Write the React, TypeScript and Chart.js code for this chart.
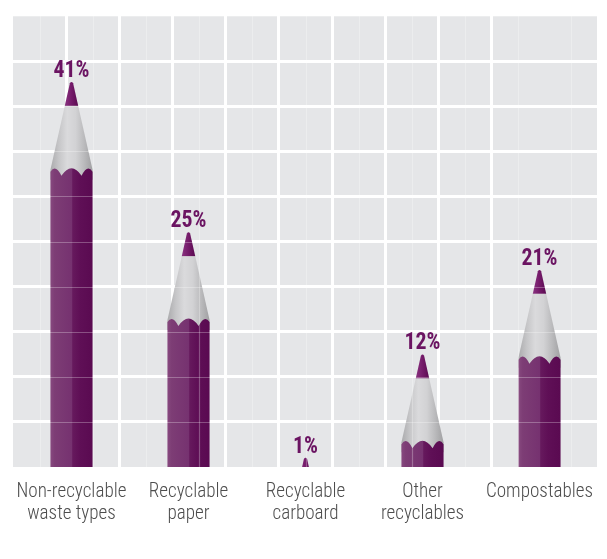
import React, { useEffect, useRef } from "react";
import { Chart, registerables } from "chart.js";

Chart.register(...registerables);

// ---- data ----
const categories: string[][] = [
  ["Non-recyclable", "waste types"],
  ["Recyclable", "paper"],
  ["Recyclable", "carboard"],
  ["Other", "recyclables"],
  ["Compostables"],
];
const shares: number[] = [41, 25, 1, 12, 21];
const valueLabels: string[] = ["41%", "25%", "1%", "12%", "21%"];
const yMax = 48;
const gridRows = 10;
const gridCols = 10;

const COND_FONT = '"Roboto Condensed", "Liberation Sans Narrow", "DejaVu Sans Condensed", Roboto, sans-serif';

function drawPencil(ctx: CanvasRenderingContext2D, cx: number, yTip: number, base: number, w: number) {
  const x0 = cx - w / 2;
  const x1 = cx + w / 2;
  const H = 88;
  const LEAD = 24;
  const yW = yTip + H;

  // wood cone
  ctx.save();
  ctx.beginPath();
  ctx.moveTo(x0, yW + 10);
  ctx.lineTo(x0, yW);
  ctx.lineTo(cx - 1.6, yTip + 1.5);
  ctx.quadraticCurveTo(cx, yTip - 1, cx + 1.6, yTip + 1.5);
  ctx.lineTo(x1, yW);
  ctx.lineTo(x1, yW + 10);
  ctx.closePath();
  const wood = ctx.createLinearGradient(x0, 0, x1, 0);
  wood.addColorStop(0, "#ababad");
  wood.addColorStop(0.2, "#c6c6c8");
  wood.addColorStop(0.4, "#dadadc");
  wood.addColorStop(0.6, "#d2d2d4");
  wood.addColorStop(0.8, "#bababc");
  wood.addColorStop(1, "#a0a0a2");
  ctx.fillStyle = wood;
  ctx.fill();
  ctx.clip();
  // lead
  const lead = ctx.createLinearGradient(cx - 7, 0, cx + 7, 0);
  lead.addColorStop(0, "#8a3381");
  lead.addColorStop(0.5, "#741a69");
  lead.addColorStop(1, "#5a0a50");
  ctx.fillStyle = lead;
  ctx.fillRect(x0, yTip - 4, w, LEAD + 4);
  ctx.restore();

  // painted body with scalloped top
  ctx.beginPath();
  ctx.moveTo(x0, yW + 2);
  ctx.quadraticCurveTo(x0 + w * 0.12, yW - 6, x0 + w * 0.26, yW + 6);
  ctx.quadraticCurveTo(x0 + w * 0.5, yW - 9, x0 + w * 0.74, yW + 6);
  ctx.quadraticCurveTo(x0 + w * 0.88, yW - 6, x1, yW + 2);
  ctx.lineTo(x1, base + 2);
  ctx.lineTo(x0, base + 2);
  ctx.closePath();
  const body = ctx.createLinearGradient(x0, 0, x1, 0);
  body.addColorStop(0, "#87497f");
  body.addColorStop(0.1, "#7d3d75");
  body.addColorStop(0.5, "#763270");
  body.addColorStop(0.53, "#66195d");
  body.addColorStop(0.7, "#5f0f56");
  body.addColorStop(1, "#5a0a51");
  ctx.fillStyle = body;
  ctx.fill();
}

// squeeze text horizontally only if the font is wider than the target
function condensedScale(ctx: CanvasRenderingContext2D, sample: string, target: number) {
  const m = ctx.measureText(sample).width;
  return m > 0 ? Math.min(1, target / m) : 1;
}

const backgroundPlugin = {
  id: "plotBackground",
  beforeDraw(chart: any) {
    const { ctx, chartArea } = chart;
    ctx.save();
    ctx.fillStyle = "#e5e6e8";
    ctx.fillRect(chartArea.left, chartArea.top, chartArea.right - chartArea.left, chartArea.bottom - chartArea.top);
    ctx.restore();
  },
};

const pencilPlugin = {
  id: "pencils",
  afterDatasetsDraw(chart: any) {
    const { ctx, chartArea, scales } = chart;
    const meta = chart.getDatasetMeta(0);
    ctx.save();
    ctx.beginPath();
    ctx.rect(chartArea.left, chartArea.top - 40, chartArea.right - chartArea.left, chartArea.bottom - chartArea.top + 40);
    ctx.clip();
    meta.data.forEach((el: any) => {
      const p = el.getProps(["x", "y", "base", "width"], true);
      drawPencil(ctx, p.x, p.y, p.base, p.width);
    });
    // faint grid showing through the pencils
    ctx.strokeStyle = "rgba(255,255,255,0.28)";
    ctx.lineWidth = 1.2;
    scales.y.ticks.forEach((t: any) => {
      const yy = Math.round(scales.y.getPixelForValue(t.value)) + 0.5;
      ctx.beginPath();
      ctx.moveTo(chartArea.left, yy);
      ctx.lineTo(chartArea.right, yy);
      ctx.stroke();
    });
    scales.xg.ticks.forEach((t: any) => {
      const xx = Math.round(scales.xg.getPixelForValue(t.value)) + 0.5;
      ctx.beginPath();
      ctx.moveTo(xx, chartArea.top);
      ctx.lineTo(xx, chartArea.bottom);
      ctx.stroke();
    });
    ctx.restore();

    // value labels
    ctx.save();
    ctx.fillStyle = "#6b1462";
    ctx.textAlign = "center";
    ctx.textBaseline = "alphabetic";
    ctx.font = `bold 24px ${COND_FONT}`;
    const sv = condensedScale(ctx, "41%", 36);
    meta.data.forEach((el: any, i: number) => {
      const p = el.getProps(["x", "y"], true);
      ctx.save();
      ctx.translate(p.x, p.y - 5);
      ctx.scale(sv, 1);
      ctx.fillText(valueLabels[i], 0, 0);
      ctx.restore();
    });
    ctx.restore();
  },
};

const categoryLabelPlugin = {
  id: "categoryLabels",
  afterDraw(chart: any) {
    const { ctx, scales } = chart;
    const xs = scales.x;
    ctx.save();
    ctx.fillStyle = "#4d4d4d";
    ctx.textAlign = "center";
    ctx.textBaseline = "middle";
    ctx.font = `300 20px ${COND_FONT}`;
    const sc = condensedScale(ctx, "Non-recyclable", 110);
    categories.forEach((lines, i) => {
      const x = xs.getPixelForTick(i);
      lines.forEach((line, j) => {
        ctx.save();
        ctx.translate(x, xs.top + 25 + j * 22);
        ctx.scale(sc, 1);
        ctx.fillText(line, 0, 0);
        ctx.restore();
      });
    });
    ctx.restore();
  },
};

const edgeless = (c: any) => {
  const n = c.scale.ticks.length;
  return c.index === 0 || c.index === n - 1 ? "rgba(0,0,0,0)" : "#ffffff";
};

export default function App() {
  const canvasRef = useRef<HTMLCanvasElement | null>(null);

  useEffect(() => {
    if (!canvasRef.current) return;
    const chart = new Chart(canvasRef.current, {
      type: "bar",
      data: {
        labels: categories,
        datasets: [
          {
            data: shares,
            backgroundColor: "rgba(0,0,0,0)",
            borderWidth: 0,
            barPercentage: 0.36,
            categoryPercentage: 1,
          },
        ],
      },
      options: {
        animation: false,
        responsive: true,
        maintainAspectRatio: false,
        layout: { padding: { left: 13, right: 9, top: 16, bottom: 0 } },
        plugins: {
          legend: { display: false },
          tooltip: { enabled: false },
        },
        scales: {
          x: {
            type: "category",
            grid: { display: false, drawTicks: false },
            border: { display: false },
            ticks: { display: false },
            afterFit: (s: any) => {
              s.height = 92;
              s.paddingLeft = 0;
              s.paddingRight = 0;
            },
          },
          xg: {
            type: "linear",
            position: "top",
            min: 0,
            max: gridCols,
            ticks: { display: false, stepSize: 1 },
            grid: { color: edgeless, lineWidth: 3, drawTicks: false },
            border: { display: false },
            afterFit: (s: any) => {
              s.height = 0;
              s.paddingLeft = 0;
              s.paddingRight = 0;
            },
          },
          y: {
            min: 0,
            max: yMax,
            ticks: { display: false },
            grid: { color: edgeless, lineWidth: 3, drawTicks: false },
            border: { display: false },
            afterBuildTicks: (s: any) => {
              const t = [];
              for (let i = 0; i <= gridRows; i++) t.push({ value: (yMax / gridRows) * i });
              s.ticks = t;
            },
            afterFit: (s: any) => {
              s.width = 0;
            },
          },
        },
      },
      plugins: [backgroundPlugin, pencilPlugin, categoryLabelPlugin],
    } as any);
    return () => chart.destroy();
  }, []);

  return (
    <div style={{ position: "fixed", left: 0, top: 0, width: 607, height: 559, background: "#ffffff" }}>
      <canvas ref={canvasRef} />
    </div>
  );
}
